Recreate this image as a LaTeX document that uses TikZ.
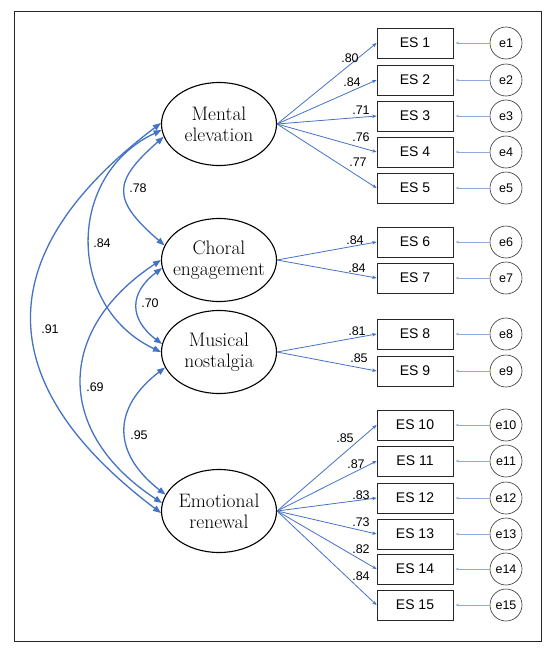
\documentclass[tikz,border=0pt]{standalone}
\usepackage{fontspec}
\setsansfont{Liberation Sans}
\usetikzlibrary{arrows.meta,shapes.geometric}
\definecolor{semblue}{HTML}{4472C4}
\definecolor{errblue}{HTML}{8FAADC}
\begin{document}
\begin{tikzpicture}[x=1pt,y=-1pt,
  latent/.style={ellipse,draw=black,line width=1.1pt,minimum width=115pt,minimum height=83pt,inner sep=0pt},
  lattext/.style={align=center,inner sep=0pt,font=\fontsize{19.5}{21}\selectfont},
  obs/.style={rectangle,draw=black!85,line width=0.8pt,minimum width=76pt,minimum height=30pt,inner sep=0pt,font=\sffamily\fontsize{14}{16}\selectfont},
  err/.style={circle,draw=black!80,line width=0.6pt,minimum size=32pt,inner sep=0pt,font=\sffamily\fontsize{12.5}{14}\selectfont},
  load/.style={draw=semblue,line width=0.8pt,-{Stealth[length=4.5pt,width=3.5pt]}},
  errarr/.style={draw=errblue,line width=0.7pt,-{Stealth[length=3.5pt,width=2.5pt]},shorten >=2pt},
  cov/.style={draw=semblue,line width=1.3pt,{Triangle[length=8pt,width=6pt]}-{Triangle[length=8pt,width=6pt]}},
  num/.style={font=\sffamily\fontsize{12.5}{14}\selectfont,inner sep=0pt},
  frame/.style={draw=black!85,line width=1pt}
]
\useasboundingbox (0,0) rectangle (550,653);
\draw[frame] (14,11) rectangle (541,641);

% latent factors
\node[latent,label={[lattext]center:Mental\\elevation}] (me) at (219,124) {};
\node[latent,label={[lattext]center:Choral\\engagement}] (ch) at (219,260) {};
\node[latent,label={[lattext]center:Musical\\nostalgia}] (mu) at (219,352) {};
\node[latent,label={[lattext]center:Emotional\\renewal}] (em) at (219,511) {};

% indicators and errors
\foreach \i/\y in {1/43,2/80,3/116,4/152,5/188,6/242,7/278,8/334,9/371,10/425,11/461,12/498,13/534,14/569,15/605}{
  \node[obs] (es\i) at (415,\y) {ES \i};
  \node[err] (e\i) at (506,\y) {e\i};
  \draw[errarr] (e\i) -- (es\i);
}

% loadings
\foreach \i in {1,...,5}{\draw[load] (me.east) -- (es\i.west);}
\foreach \i in {6,7}{\draw[load] (ch.east) -- (es\i.west);}
\foreach \i in {8,9}{\draw[load] (mu.east) -- (es\i.west);}
\foreach \i in {10,...,15}{\draw[load] (em.east) -- (es\i.west);}

\foreach \n/\x/\y/\t in {l1/350/58/.80,l2/352/82/.84,l3/361/110/.71,l4/361/137/.76,l5/358/162/.77,l6/355/240/.84,l7/357/268/.84,l8/357/331/.81,l9/359/358/.85,l10/345/438/.85,l11/356/464/.87,l12/361/495/.83,l13/361/522/.73,l14/361/549/.82,l15/361/576/.84}{
  \node[num] (\n) at (\x,\y) {\t};
}

% covariances
\draw[cov] (me.179) .. controls (-11,253) and (-11,383) .. (em.182);
\draw[cov] (me.186) .. controls (66,175) and (66,307) .. (mu.180);
\draw[cov] (me.193) .. controls (112,182) and (112,200) .. (ch.165);
\draw[cov] (ch.188) .. controls (129,293) and (129,319) .. (mu.172);
\draw[cov] (ch.180) .. controls (55,330) and (55,433) .. (em.172);
\draw[cov] (mu.196) .. controls (112,408) and (112,453) .. (em.163);

\node[num] (c91) at (50,329) {.91};
\node[num] (c84) at (102,243) {.84};
\node[num] (c78) at (138,188) {.78};
\node[num] (c70) at (150,303) {.70};
\node[num] (c69) at (95,387) {.69};
\node[num] (c95) at (139,435) {.95};
\end{tikzpicture}
\end{document}
